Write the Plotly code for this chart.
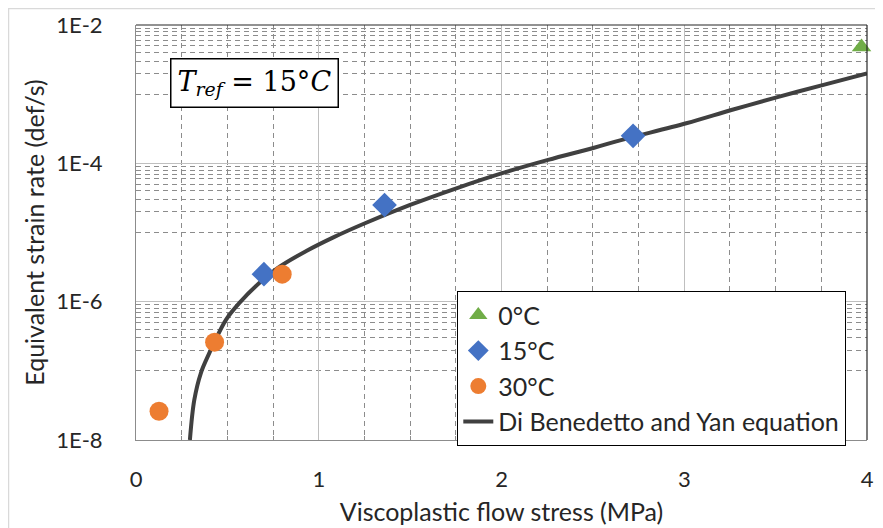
import plotly.graph_objects as go

# ---- data ----
x_0C = [3.97]
y_0C = [4.8e-3]

x_15C = [0.70, 1.36, 2.72]
y_15C = [2.5e-6, 2.5e-5, 2.5e-4]

x_30C = [0.126, 0.43, 0.80]
y_30C = [2.6e-8, 2.6e-7, 2.5e-6]

x_curve = [0.295, 0.319, 0.355, 0.401, 0.429, 0.493, 0.566, 0.676, 0.786, 0.932, 1.08,
           1.253, 1.50, 1.753, 2.004, 2.255, 2.507, 2.654, 3.011, 3.258, 3.505, 3.762, 4.0]
y_curve = [1.0e-8, 3.8e-8, 9.3e-8, 1.8e-7, 2.6e-7, 5.5e-7, 9.6e-7, 1.87e-6, 3.2e-6, 5.4e-6, 8.5e-6,
           1.36e-5, 2.5e-5, 4.35e-5, 7.2e-5, 1.12e-4, 1.68e-4, 2.17e-4, 3.8e-4, 5.9e-4, 9.0e-4, 1.36e-3, 2.0e-3]

y_tickvals = [1e-8, 1e-6, 1e-4, 1e-2]
y_ticktext = ["1E-8", "1E-6", "1E-4", "1E-2"]
y_minor = [k * 10.0 ** e for e in (-7, -5, -3) for k in range(1, 10)]
x_tickvals = [0, 1, 2, 3, 4]
x_minor = [i * 0.25 for i in range(17) if i % 4 != 0]

FONT = "Lato"
TXT = "#262626"
fig = go.Figure()

fig.add_trace(go.Scatter(x=x_curve, y=y_curve, mode="lines", name="Di Benedetto and Yan equation",
                         legendrank=4,
                         line=dict(color="#404040", width=4, shape="spline")))
fig.add_trace(go.Scatter(x=x_0C, y=y_0C, mode="markers", name="0°C", legendrank=1, cliponaxis=False,
                         marker=dict(symbol="triangle-up", size=17, color="#70AD47")))
fig.add_trace(go.Scatter(x=x_15C, y=y_15C, mode="markers", name="15°C", legendrank=2, cliponaxis=False,
                         marker=dict(symbol="diamond", size=19, color="#4472C4")))
fig.add_trace(go.Scatter(x=x_30C, y=y_30C, mode="markers", name="30°C", legendrank=3, cliponaxis=False,
                         marker=dict(symbol="circle", size=19, color="#ED7D31")))

# The page body adds an 8px offset; margins compensate so the plot lands where the reference has it.
fig.update_layout(
    width=883, height=528,
    margin=dict(l=128, r=24, t=17, b=96),
    paper_bgcolor="white", plot_bgcolor="white",
    font=dict(family=FONT, size=22, color=TXT),
    showlegend=True,
    legend=dict(x=(457 - 136) / 731, y=(440 - 291) / 415, xanchor="left", yanchor="top",
                bgcolor="white", bordercolor="black", borderwidth=1.3,
                font=dict(family=FONT, size=25, color=TXT),
                traceorder="normal", tracegroupgap=0, itemwidth=30),
    xaxis=dict(range=[0, 4], tickmode="array", tickvals=x_tickvals,
               ticktext=[str(v) for v in x_tickvals], automargin=False,
               showgrid=True, gridcolor="#bfbfbf", gridwidth=1,
               zeroline=False, showline=True, linecolor="#8c8c8c", linewidth=1,
               ticks="", ticklabelstandoff=20,
               tickfont=dict(family=FONT, size=22, color=TXT),
               minor=dict(tickmode="array", tickvals=x_minor, showgrid=True,
                          gridcolor="#8c8c8c", griddash="5px,4px", gridwidth=1,
                          ticks="inside", ticklen=4, tickcolor="#8c8c8c"),
               title=dict(text="Viscoplastic flow stress (MPa)", standoff=12,
                          font=dict(family=FONT, size=25, color=TXT))),
    yaxis=dict(type="log", range=[-8, -2], tickmode="array", tickvals=y_tickvals,
               ticktext=y_ticktext, automargin=False,
               showgrid=True, gridcolor="#bfbfbf", gridwidth=1,
               zeroline=False, showline=True, linecolor="#8c8c8c", linewidth=1,
               ticks="", ticklabelstandoff=28,
               tickfont=dict(family=FONT, size=22, color=TXT),
               minor=dict(tickmode="array", tickvals=y_minor, showgrid=True,
                          gridcolor="#8c8c8c", griddash="5px,4px", gridwidth=1),
               title=dict(text="Equivalent strain rate (def/s)", standoff=4,
                          font=dict(family=FONT, size=25, color=TXT))),
)

# top and right border of the plot area (darker)
fig.add_shape(type="line", xref="paper", yref="paper", x0=0, x1=1, y0=1, y1=1,
              line=dict(color="#262626", width=1.2), layer="above")
fig.add_shape(type="line", xref="paper", yref="paper", x0=1, x1=1, y0=0, y1=1,
              line=dict(color="#262626", width=1.2), layer="above")
# chart area outline
fig.add_shape(type="rect", xref="paper", yref="paper",
              x0=(8.5 - 136) / 731, x1=(900 - 136) / 731,
              y0=(440 - 545) / 415, y1=(440 - 8.5) / 415,
              line=dict(color="#d9d9d9", width=1.5), layer="below")

fig.add_annotation(xref="paper", yref="paper", x=(254 - 136) / 731, y=(440 - 83) / 415,
                   xanchor="center", yanchor="middle",
                   text="<i>T</i><sub><i>ref</i></sub> = 15°<i>C</i>",
                   showarrow=False, bgcolor="white", bordercolor="black",
                   borderwidth=1.5, borderpad=6,
                   font=dict(family="DejaVu Serif", size=27, color="black"))

fig.write_html("out.html")
